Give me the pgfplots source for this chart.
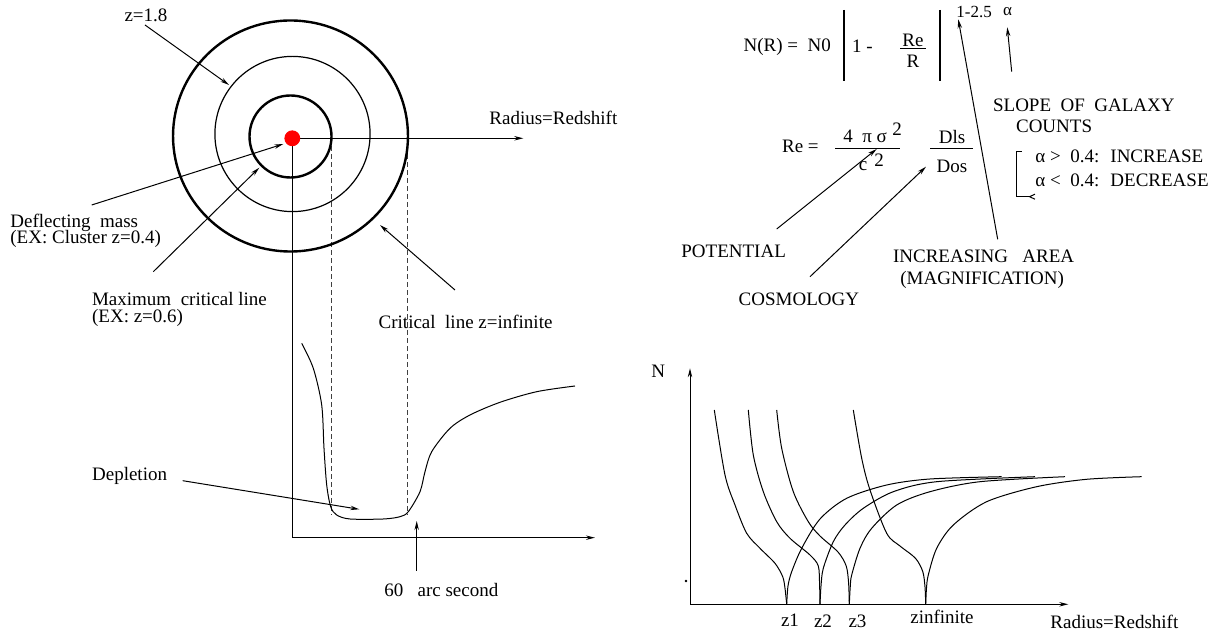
\documentclass[border=0pt]{standalone}
\usepackage{fontspec}
\setmainfont{Liberation Serif}
\usepackage{pgfplots}
\pgfplotsset{compat=1.18}
\usetikzlibrary{arrows.meta}
\tikzset{
  arr/.style={-{Stealth[length=4.5pt,width=2.2pt]}},
  lab/.style={anchor=west,inner sep=0pt},
  cen/.style={anchor=center,inner sep=0pt},
  small/.style={font=\fontsize{8.5}{10}\selectfont},
}
\begin{document}
\begin{tikzpicture}[font=\fontsize{9.5}{11}\selectfont]
\begin{axis}[
  width=611.5pt, height=317.5pt, scale only axis,
  xmin=0, xmax=1223, ymin=0, ymax=635, y dir=reverse,
  hide axis, clip=false,
  cycle list={{black,mark=none,solid}},
  every axis plot/.append style={mark=none, line width=0.5pt, black},
]
% ---- left panel: lens circles
\addplot[only marks, mark=o, mark size=57.75pt, mark options={line width=1.2pt, xscale=1.017}] coordinates {(290.5,136)};
\addplot[only marks, mark=o, mark size=38.8pt, mark options={line width=0.6pt}] coordinates {(292.5,134)};
\addplot[only marks, mark=o, mark size=20.5pt, mark options={line width=1.2pt}] coordinates {(290.5,136.5)};
\addplot[arr] coordinates {(292.3,138.3) (523.3,138.3)};
\addplot[black] coordinates {(292.3,138.3) (292.3,537.7)};
\addplot[arr] coordinates {(292.3,537.7) (595,537.7)};
\addplot[dash pattern=on 2.5pt off 1.5pt, line width=0.45pt, black!75] coordinates {(331,138.3) (331,515)};
\addplot[dash pattern=on 2.5pt off 1.5pt, line width=0.45pt, black!75] coordinates {(407.3,138.3) (407.3,515)};
\addplot[only marks, mark=*, mark size=3.7pt, red, mark options={draw=red, fill=red}] coordinates {(292.3,138.3)};

% depletion profile
\addplot[smooth, tension=0.5] coordinates {
 (301.7,343.3) (313.3,368.3) (321.7,405) (324,448.3) (326.7,485) (330.7,506.7)
 (336.7,515) (350,519) (383.3,519) (400,516.7) (408.3,511.7) (420,491.7)
 (425,471.7) (431.7,451.7) (450,428.3) (470,415) (500,402.3) (536.7,391.7) (575,386)};

% left annotations
\addplot[arr] coordinates {(145,25) (229,85)};
\addplot[arr] coordinates {(91.7,205) (283.3,144)};
\addplot[arr] coordinates {(153.3,271.7) (259.3,167.7)};
\addplot[arr] coordinates {(455,290) (380,225)};
\addplot[arr] coordinates {(182.7,480.7) (359.3,509.3)};
\addplot[arr] coordinates {(416.7,571) (416.7,521)};

\node[cen] at (axis cs:146,15) {z=1.8};
\node[lab] at (axis cs:489,118) {Radius=Redshift};
\node[lab] at (axis cs:10,223) {Deflecting~ mass};
\node[lab] at (axis cs:10,239) {(EX: Cluster z=0.4)};
\node[lab] at (axis cs:91.7,299) {Maximum~ critical line};
\node[lab] at (axis cs:91.7,318) {(EX: z=0.6)};
\node[lab] at (axis cs:378.3,322) {Critical~ line z=infinite};
\node[lab] at (axis cs:91.7,476) {Depletion};
\node[lab] at (axis cs:384,590) {60~~ arc second};

% ---- top right: formulas
\addplot[line width=0.6pt] coordinates {(844,10) (844,80.7)};
\addplot[line width=0.6pt] coordinates {(940,10) (940,80.7)};
\addplot[black] coordinates {(900,48.3) (926,48.3)};
\addplot[black] coordinates {(835,148.3) (900,148.3)};
\addplot[black] coordinates {(930,148.3) (973.3,148.3)};
\node[lab] at (axis cs:743.3,46.7) {N(R) =~ N0};
\node[lab] at (axis cs:851.7,46.7) {1 -};
\node[cen] at (axis cs:913,40) {Re};
\node[cen] at (axis cs:913,61.7) {R};
\node[lab,small] at (axis cs:956,11.7) {1-2.5};
\node[cen,small] at (axis cs:1007.5,11.7) {α};
\node[lab] at (axis cs:781.7,146.7) {Re =};
\node[lab] at (axis cs:843,136.7) {4~ π σ};
\node[cen] at (axis cs:897,129) {2};
\node[cen] at (axis cs:863,166) {c};
\node[cen] at (axis cs:879,160) {2};
\node[cen] at (axis cs:952,136.7) {Dls};
\node[cen] at (axis cs:952,166.7) {Dos};
\node[lab] at (axis cs:992.7,105) {SLOPE~ OF~ GALAXY};
\node[lab] at (axis cs:1015.7,126.7) {COUNTS};
\node[lab] at (axis cs:1035,156.7) {α >~ 0.4:~ INCREASE};
\node[lab] at (axis cs:1035,180) {α <~ 0.4:~ DECREASE};
\addplot[black] coordinates {(1021.7,151.7) (1016.7,151.7) (1016.7,196.7) (1030,196.7)};
\addplot[black] coordinates {(1035,194.2) (1029.5,196.7) (1035,199.2)};
\node[lab] at (axis cs:681,251.7) {POTENTIAL};
\node[lab] at (axis cs:738.3,299) {COSMOLOGY};
\node[lab] at (axis cs:892.7,256.7) {INCREASING~~ AREA};
\node[lab] at (axis cs:900,280) {(MAGNIFICATION)};
\addplot[arr] coordinates {(776.7,229) (876.7,149)};
\addplot[arr] coordinates {(810,276.7) (926,166.7)};
\addplot[arr] coordinates {(997.7,239.3) (958.3,19.3)};
\addplot[arr] coordinates {(1011.7,71.7) (1007.3,27.3)};

% ---- bottom right: counts vs radius
\addplot[arr] coordinates {(690,604.3) (690,368.3)};
\addplot[arr] coordinates {(690,604.3) (1068.3,604.3)};
\addplot[only marks, mark=*, mark size=0.3pt] coordinates {(686,581)};
% descending branches
\addplot[smooth, tension=0.5] coordinates {(714.3,410) (725,475) (735,505) (746.7,533.3) (760,548.3) (775,563.3) (782.7,576.7) (785,588.3) (786.7,604.3)};
\addplot[smooth, tension=0.5] coordinates {(748.3,410) (753.3,455) (763.3,491.7) (776.7,521.7) (790,538.3) (810,555) (818.3,566) (819.6,585) (820,604.3)};
\addplot[smooth, tension=0.5] coordinates {(776.7,410) (781.7,448.3) (793.3,491.7) (808.3,521.7) (820,536) (838,552) (846.2,566) (848.6,583) (849.3,604.3)};
\addplot[smooth, tension=0.5] coordinates {(853.3,410) (861.7,458.3) (870,490) (886.7,533.3) (900,546) (915.5,558.3) (922.8,571.7) (925,587) (925.7,604.3)};
% ascending branches
\addplot[smooth, tension=0.5] coordinates {(786.7,604.3) (788,586) (791.7,571.7) (801.7,548.3) (820,519) (846.7,498.3) (886.7,485) (930,479) (1001.7,476.7)};
\addplot[smooth, tension=0.5] coordinates {(820,604.3) (821,586) (823.3,568.3) (833.3,541.7) (845,525) (863.3,508.3) (893.3,491.7) (936.7,481.7) (1035,476.7)};
\addplot[smooth, tension=0.5] coordinates {(849.3,604.3) (850.3,586) (851.7,575) (860,548.3) (871.7,528.3) (896.7,505) (930,491.7) (980,481.7) (1065,476.7)};
\addplot[smooth, tension=0.5] coordinates {(925.7,604.3) (926.5,588) (928.3,575) (936.7,548.3) (953.3,525) (986.7,501.7) (1036.7,486.7) (1086.7,479.3) (1141.7,476.7)};

\node[cen] at (axis cs:658.3,371.7) {N};
\node[cen] at (axis cs:790,620) {z1};
\node[cen] at (axis cs:823,621) {z2};
\node[cen] at (axis cs:857.5,621) {z3};
\node[cen] at (axis cs:942,617) {zinfinite};
\node[lab] at (axis cs:1050,622) {Radius=Redshift};

\path (axis cs:0,0) (axis cs:1223,635);
\end{axis}
\end{tikzpicture}
\end{document}
